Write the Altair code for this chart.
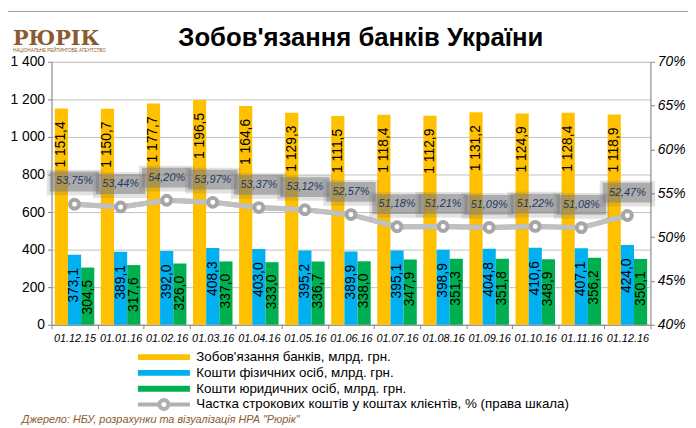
import altair as alt
import pandas as pd

# ---------------- data ----------------
dates = ["01.12.15", "01.01.16", "01.02.16", "01.03.16", "01.04.16", "01.05.16",
         "01.06.16", "01.07.16", "01.08.16", "01.09.16", "01.10.16", "01.11.16", "01.12.16"]
liabilities = [1151.4, 1150.7, 1177.7, 1196.5, 1164.6, 1129.3, 1111.5,
               1118.4, 1112.9, 1131.2, 1124.9, 1128.4, 1118.9]
individuals = [373.1, 389.1, 392.0, 408.3, 403.0, 395.2, 389.9,
               395.1, 398.9, 404.8, 410.6, 407.1, 424.0]
corporates = [304.5, 317.6, 326.0, 337.0, 333.0, 336.7, 338.0,
              347.9, 351.3, 351.8, 348.9, 356.2, 350.1]
share = [53.75, 53.44, 54.20, 53.97, 53.37, 53.12, 52.57,
         51.18, 51.21, 51.09, 51.22, 51.08, 52.47]

series_names = [
    "Зобов'язання банків, млрд. грн.",
    "Кошти фізичних осіб, млрд. грн.",
    "Кошти юридичних осіб, млрд. грн.",
    "Частка строкових коштів у коштах клієнтів, % (права шкала)",
]
series_colors = ["#FFC000", "#00B0F0", "#00B050", "#B0B0B0"]
left_ticks = [0, 200, 400, 600, 800, 1000, 1200, 1400]
right_ticks = [40, 45, 50, 55, 60, 65, 70]

title_text = "Зобов'язання банків України"
logo_text = "РЮРІК"
logo_sub = "НАЦІОНАЛЬНЕ РЕЙТИНГОВЕ АГЕНТСТВО"
source_text = "Джерело: НБУ, розрахунки та візуалізація НРА \"Рюрік\""

FONT = "Liberation Sans"


def fmt_num(v):
    return f"{v:,.1f}".replace(",", " ").replace(".", ",")


rows = []
for i, d in enumerate(dates):
    for name, vals in zip(series_names[:3], [liabilities, individuals, corporates]):
        rows.append({"date": d, "series": name, "value": vals[i], "label": fmt_num(vals[i])})
bars_df = pd.DataFrame(rows)

pct_df = pd.DataFrame({
    "date": dates,
    "share": share,
    "label": [f"{v:.2f}".replace(".", ",") + "%" for v in share],
    "series": series_names[3],
})

# ---------------- scales / encodings ----------------
color_scale = alt.Scale(domain=series_names, range=series_colors)
rect_path = "M-4.05,-0.46H4.05V0.46H-4.05Z"
ring_path = ("M-4.05,-0.3H-0.95V0.3H-4.05Z M0.95,-0.3H4.05V0.3H0.95Z "
             "M1,0A1,1 0 1,1 -1,0A1,1 0 1,1 1,0Z "
             "M0.4,0A0.4,0.4 0 1,0 -0.4,0A0.4,0.4 0 1,0 0.4,0Z")
symbol_expr = ("datum.value === '" + series_names[3] + "' ? '" + ring_path + "' : '" + rect_path + "'")

x_enc = alt.X(
    "date:N", sort=dates,
    scale=alt.Scale(paddingInner=0, paddingOuter=0),
    axis=alt.Axis(title=None, labelAngle=0, labelFontStyle="italic", labelFontSize=11,
                  labelFont=FONT, labelColor="#000000", labelPadding=4,
                  tickBand="extent", tickSize=4, tickColor="#868686",
                  domainColor="#868686", grid=False),
)
xoff_enc = alt.XOffset("series:N", sort=series_names[:3],
                       scale=alt.Scale(paddingInner=0, paddingOuter=0.25))

y_left = alt.Y(
    "value:Q",
    scale=alt.Scale(domain=[0, 1400], nice=False, zero=True),
    axis=alt.Axis(title=None, values=left_ticks,
                  labelExpr="replace(format(datum.value, ','), ',', ' ')",
                  labelFontSize=14, labelFont=FONT, labelColor="#000000", labelPadding=3,
                  tickSize=4, tickColor="#868686", domainColor="#868686",
                  grid=True, gridColor="#C0C0C0"),
)

y_right = alt.Y(
    "share:Q",
    scale=alt.Scale(domain=[40, 70], nice=False, zero=False),
    axis=alt.Axis(title=None, orient="right", values=right_ticks,
                  labelExpr="format(datum.value, 'd') + '%'",
                  labelFontSize=14, labelFont=FONT, labelFontStyle="italic",
                  labelColor="#000000", labelPadding=3,
                  tickSize=4, tickColor="#868686", domainColor="#868686", grid=False),
)

leg = alt.Legend(
    title=None, orient="none", legendX=107, legendY=292,
    symbolType=alt.ExprRef(expr=symbol_expr), symbolSize=169, symbolStrokeWidth=0,
    labelFontSize=13.5, labelFont=FONT, labelColor="#000000",
    labelOffset=26, labelLimit=600, rowPadding=1, padding=0,
)

# ---------------- left (bars) ----------------
bars = alt.Chart(bars_df).mark_bar().encode(
    x=x_enc, xOffset=xoff_enc, y=y_left,
    color=alt.Color("series:N", scale=color_scale, legend=leg),
)

lab_base = alt.Chart(bars_df)
lab_yellow = lab_base.transform_filter(alt.datum.series == series_names[0]).mark_text(
    angle=270, align="right", baseline="middle", dx=-13, fontSize=14, font=FONT, color="#000000"
).encode(x=x_enc, xOffset=xoff_enc, y=y_left, text="label:N")
lab_blue = lab_base.transform_filter(alt.datum.series == series_names[1]).mark_text(
    angle=270, align="center", baseline="middle", dx=-31, fontSize=14, font=FONT, color="#000000"
).encode(x=x_enc, xOffset=xoff_enc, y=y_left, text="label:N")
lab_green = lab_base.transform_filter(alt.datum.series == series_names[2]).mark_text(
    angle=270, align="center", baseline="middle", dx=-30, fontSize=14, font=FONT, color="#000000"
).encode(x=x_enc, xOffset=xoff_enc, y=y_left, text="label:N")

left = alt.layer(bars, lab_yellow, lab_blue, lab_green)

# ---------------- right (share line) ----------------
pbase = alt.Chart(pct_df)
line = pbase.mark_line(strokeWidth=5).encode(
    x=x_enc, y=y_right,
    color=alt.Color("series:N", scale=color_scale, legend=leg))
line_fix = pbase.mark_line(strokeWidth=5, color="#C0C0C0").encode(x=x_enc, y=y_right)
box_shadow = pbase.mark_point(
    shape="M-1.12,-0.52H1.12V0.52H-1.12Z", size=2500, filled=True,
    color="#606060", opacity=0.18, yOffset=-22
).encode(x=x_enc, y=y_right)
box = pbase.mark_point(
    shape="M-1,-0.4H1V0.4H-1Z", size=2500, filled=True,
    color="#7F7F7F", opacity=0.55, yOffset=-23
).encode(x=x_enc, y=y_right)
pct_text = pbase.mark_text(
    fontSize=11, fontStyle="italic", font=FONT, color="#1F3864",
    baseline="middle", align="center", yOffset=-23
).encode(x=x_enc, y=y_right, text="label:N")
markers = pbase.mark_point(
    shape="circle", size=81, filled=True, fill="white", stroke="#A6A6A6",
    strokeWidth=4, opacity=1
).encode(x=x_enc, y=y_right)

right = alt.layer(line, line_fix, box_shadow, box, pct_text, markers)

# ---------------- annotations ----------------
one = pd.DataFrame({"k": [0]})
title_mark = alt.Chart(one).mark_text(
    text=title_text, fontSize=26, fontWeight="bold", font=FONT, color="#000000",
    align="center", baseline="alphabetic"
).encode(x=alt.value(313), y=alt.value(-16))
logo_mark = alt.Chart(one).mark_text(
    text=logo_text, fontSize=21, fontWeight="bold", font="DejaVu Serif", color="#8C5A2E",
    align="left", baseline="alphabetic"
).encode(x=alt.value(-39), y=alt.value(-17))
logo_sub_mark = alt.Chart(one).mark_text(
    text=logo_sub, fontSize=4.6, font=FONT, color="#8C5A2E",
    align="left", baseline="alphabetic"
).encode(x=alt.value(-39), y=alt.value(-10))
source_mark = alt.Chart(one).mark_text(
    text=source_text, fontSize=11, fontStyle="italic", font=FONT, color="#8C5A2E",
    align="left", baseline="alphabetic"
).encode(x=alt.value(-30), y=alt.value(365))
frame_left = alt.Chart(one).mark_rule(color="#A0A0A0", strokeWidth=1).encode(
    x=alt.value(-49), y=alt.value(-51), y2=alt.value(420))
frame_top = alt.Chart(one).mark_rule(color="#A0A0A0", strokeWidth=1).encode(
    x=alt.value(-49), x2=alt.value(700), y=alt.value(-51))

chart = alt.layer(
    left, right,
    title_mark, logo_mark, logo_sub_mark, source_mark, frame_left, frame_top
).resolve_scale(y="independent").properties(
    width=606, height=266,
    autosize=alt.AutoSizeParams(type="none"),
    padding={"left": 44, "top": 52, "right": 38, "bottom": 100},
).configure_view(stroke=None).configure(background="white")

chart.save("out.html", embed_options={"renderer": "svg", "actions": False})
